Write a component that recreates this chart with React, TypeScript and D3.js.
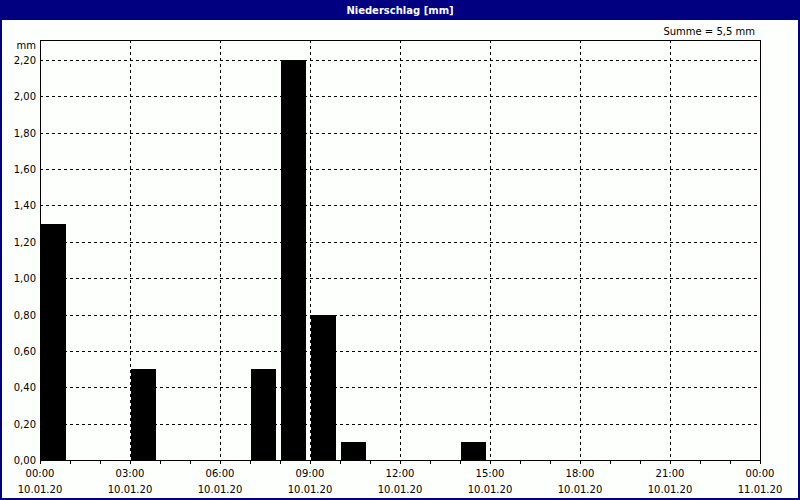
import React from "react";
import * as d3 from "d3";

const hours = [0, 3, 7, 8, 9, 10, 14];
const values = [1.3, 0.5, 0.5, 2.2, 0.8, 0.1, 0.1];
const yTicks = [0, 0.2, 0.4, 0.6, 0.8, 1.0, 1.2, 1.4, 1.6, 1.8, 2.0, 2.2];
const xTickHours = [0, 3, 6, 9, 12, 15, 18, 21, 24];
const xTimeLabels = ["00:00", "03:00", "06:00", "09:00", "12:00", "15:00", "18:00", "21:00", "00:00"];
const xDateLabels = ["10.01.20", "10.01.20", "10.01.20", "10.01.20", "10.01.20", "10.01.20", "10.01.20", "10.01.20", "11.01.20"];
const minorHours = d3.range(0, 25);
const title = "Niederschlag [mm]";
const sumLabel = "Summe = 5,5 mm";
const unitLabel = "mm";

const W = 800;
const H = 500;
const L = 40, R = 760, T = 40, B = 460;

export default function App() {
  const x = d3.scaleLinear().domain([0, 24]).range([L, R]);
  const y = d3.scaleLinear().domain([0, 2.2]).range([B, 60]);
  const navy = "#000080";
  const font = "'DejaVu Sans', sans-serif";
  return (
    <svg width={W} height={H} style={{ position: "absolute", left: 0, top: 0 }} fontFamily={font}>
      <rect x={0} y={0} width={W} height={H} fill="#fcfffc" />
      <rect x={0} y={0} width={W} height={20} fill={navy} />
      <text x={W / 2} y={14} fill="#fff" fontSize={10} fontWeight="bold" textAnchor="middle">{title}</text>
      <rect x={1} y={1} width={W - 2} height={H - 2} fill="none" stroke={navy} strokeWidth={2} />
      <text x={755} y={35} fontSize={10} textAnchor="end" fill="#000">{sumLabel}</text>
      <text x={36} y={49} fontSize={10} textAnchor="end" fill="#000">{unitLabel}</text>
      {/* grid */}
      {yTicks.filter(v => v > 0).map(v => (
        <line key={"gy" + v} x1={L} x2={R} y1={Math.round(y(v)) + 0.5} y2={Math.round(y(v)) + 0.5} stroke="#000" strokeDasharray="3,3" />
      ))}
      {xTickHours.filter(h => h > 0 && h < 24).map(h => (
        <line key={"gx" + h} x1={x(h) + 0.5} x2={x(h) + 0.5} y1={T} y2={B} stroke="#000" strokeDasharray="3,3" />
      ))}
      {/* bars */}
      {hours.map((h, i) => (
        <rect key={"b" + h} x={x(h) + 1} y={Math.round(y(values[i]))} width={25} height={B - Math.round(y(values[i]))} fill="#000" />
      ))}
      {/* frame */}
      <rect x={L + 0.5} y={T + 0.5} width={R - L} height={B - T} fill="none" stroke="#000" />
      {/* y labels */}
      {yTicks.map(v => (
        <text key={"yl" + v} x={36} y={y(v) + 4} fontSize={10} textAnchor="end" fill="#000">
          {d3.format(".2f")(v).replace(".", ",")}
        </text>
      ))}
      {/* x minor ticks */}
      {minorHours.map(h => (
        <line key={"mt" + h} x1={x(h) + 0.5} x2={x(h) + 0.5} y1={B} y2={B + 4} stroke="#000" />
      ))}
      {xTickHours.map((h, i) => (
        <g key={"xl" + i}>
          <text x={x(h)} y={477} fontSize={10} textAnchor="middle" fill="#000">{xTimeLabels[i]}</text>
          <text x={x(h)} y={493} fontSize={10} textAnchor="middle" fill="#000">{xDateLabels[i]}</text>
        </g>
      ))}
    </svg>
  );
}
